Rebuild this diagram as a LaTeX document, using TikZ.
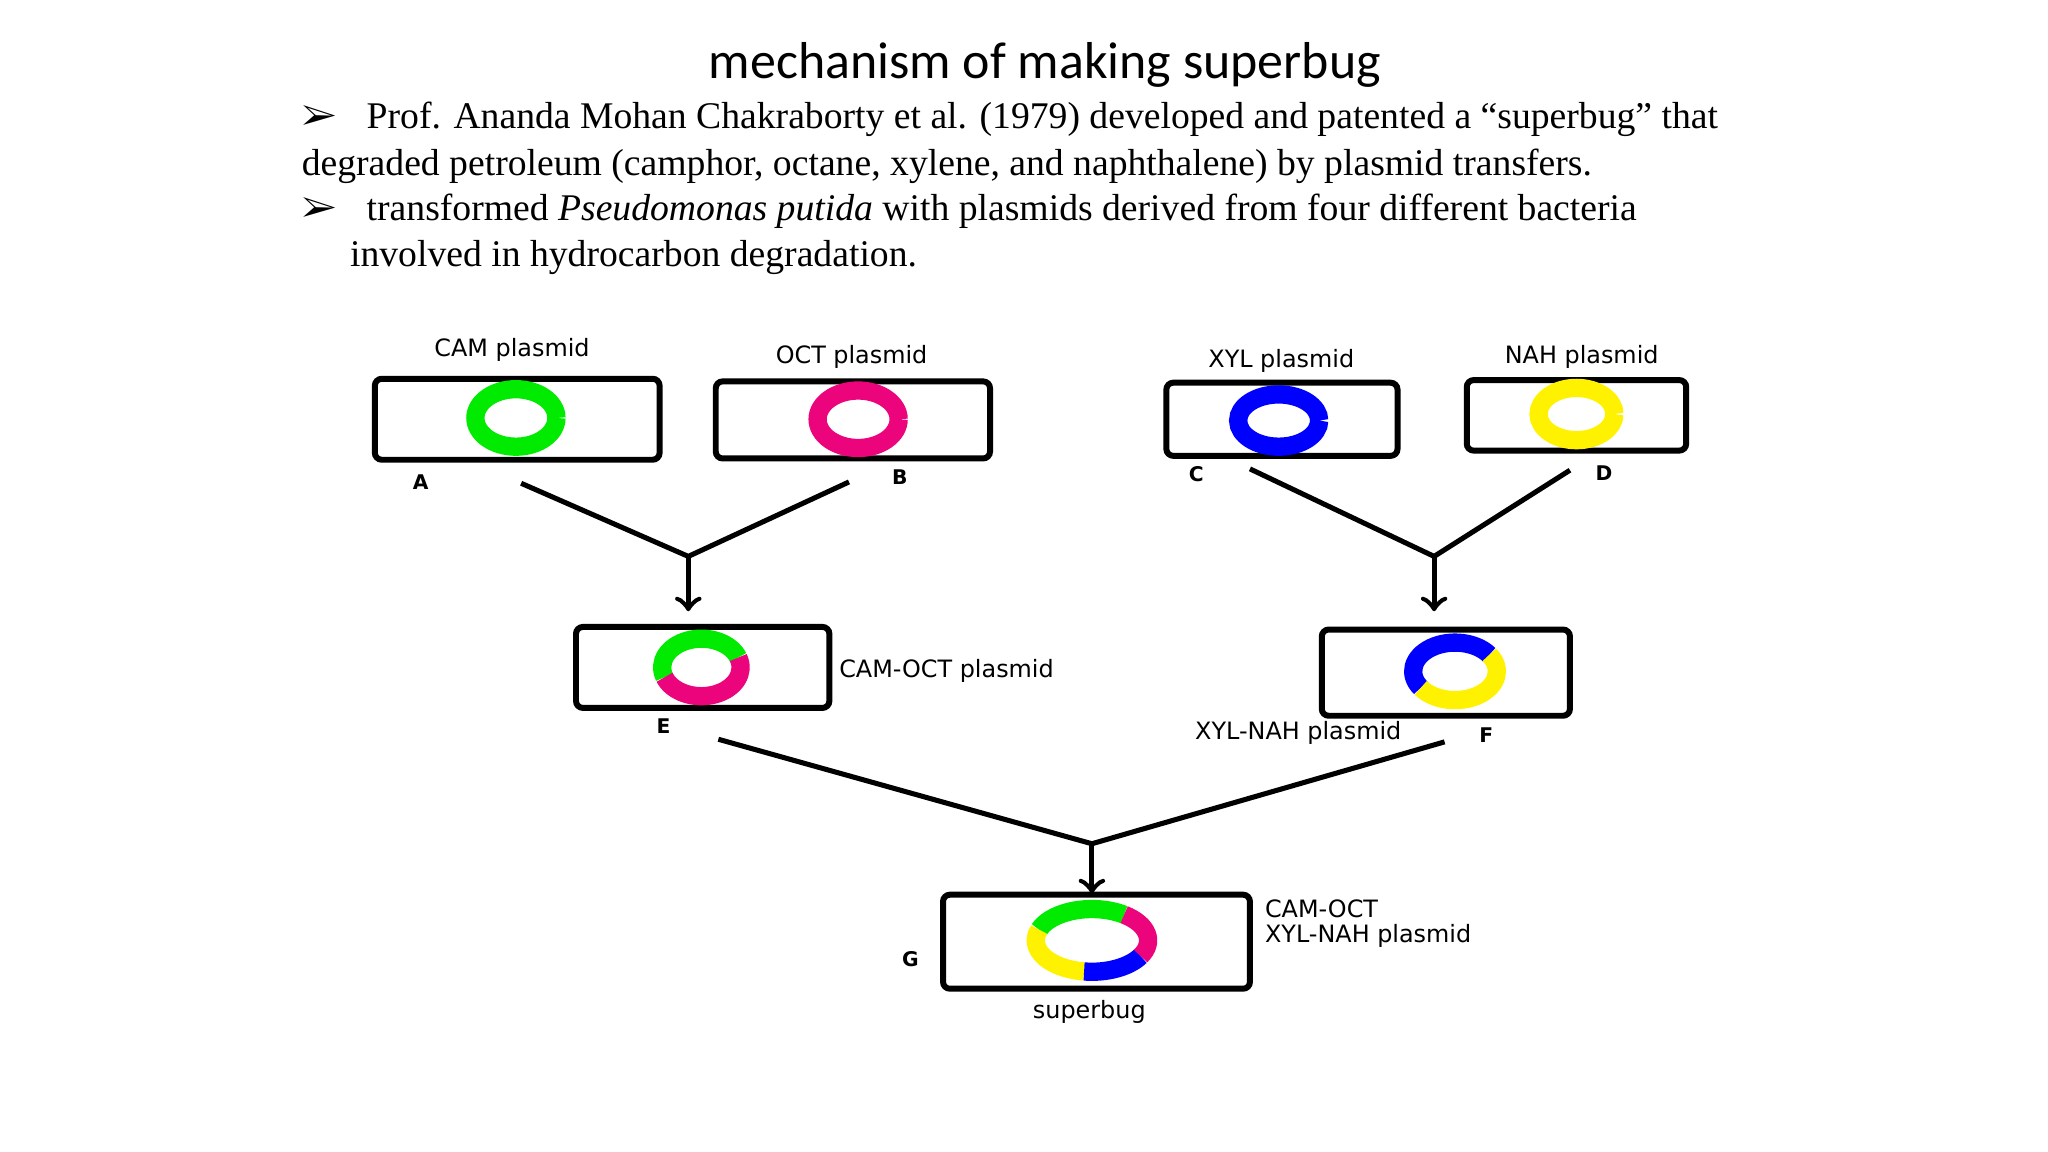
\documentclass[tikz,border=0pt]{standalone}
\usepackage{fontspec}
\setmainfont{Liberation Serif}
\newfontfamily\titlefont{Carlito}
\newfontfamily\labelfont{DejaVu Sans}
\usepackage{pifont}
\usetikzlibrary{arrows}

% one coloured piece of a plasmid ring: centre, colour, from, to, x radius, y radius
\newcommand{\plasmidarc}[6]{%
  \draw[-,line width=0.14cm,#2] (#1) ++(#3:#5 and #6)
    arc[start angle=#3,end angle=#4,x radius=#5,y radius=#6];}

\begin{document}
\begin{tikzpicture}[x=0.01cm,y=-0.01cm,->,>=to,semithick]
  \tikzstyle{cell}=[draw,-,line width=1.3pt,rounded corners=1.5pt]
  \tikzstyle{lbl}=[font=\labelfont\fontsize{5.2}{6}\selectfont,inner sep=1pt]
  \tikzstyle{tag}=[font=\labelfont\bfseries\fontsize{4.4}{5}\selectfont,inner sep=1pt]
  \tikzstyle{link}=[-,line width=1.1pt]
  \tikzstyle{bullet}=[anchor=west,font=\fontsize{8.2}{10}\selectfont,inner sep=0pt]

  \useasboundingbox (0,0) rectangle (1568,882);

  % heading and bullets
  \node[font=\titlefont\fontsize{11.3}{13}\selectfont] (title) at (800,50) {mechanism of making superbug};
  \node[bullet] (b1) at (230,91)
    {\ding{226}\hspace{0.8em}Prof. Ananda Mohan Chakraborty et al. (1979) developed and patented a “superbug” that};
  \node[bullet] (b1b) at (230,127)
    {degraded petroleum (camphor, octane, xylene, and naphthalene) by plasmid transfers.};
  \node[bullet] (b2) at (230,162)
    {\ding{226}\hspace{0.8em}transformed \textit{Pseudomonas putida} with plasmids derived from four different bacteria};
  \node[bullet] (b2b) at (267,197)
    {involved in hydrocarbon degradation.};

  % cells
  \draw[cell] (287,290) rectangle (505,352);
  \draw[cell] (548,292) rectangle (758,351);
  \draw[cell] (893,293) rectangle (1070,349);
  \draw[cell] (1123,291) rectangle (1291,345);
  \draw[cell] (441,480) rectangle (635,542);
  \draw[cell] (1012,482) rectangle (1202,548);
  \draw[cell] (722,685) rectangle (957,757);

  % ring centres
  \coordinate (ringA) at (395,320);
  \coordinate (ringB) at (657,321);
  \coordinate (ringC) at (979,322);
  \coordinate (ringD) at (1207,317);
  \coordinate (ringE) at (537,511);
  \coordinate (ringF) at (1114,514);
  \coordinate (ringG) at (836,720);

  \plasmidarc{ringA}{green!90!black!80!green}{0}{360}{0.31cm}{0.22cm}
  \plasmidarc{ringB}{magenta!85!red}{0}{360}{0.31cm}{0.22cm}
  \plasmidarc{ringC}{blue}{0}{360}{0.31cm}{0.2cm}
  \plasmidarc{ringD}{yellow}{0}{360}{0.29cm}{0.2cm}
  \plasmidarc{ringE}{green!90!black!80!green}{20}{200}{0.3cm}{0.22cm}
  \plasmidarc{ringE}{magenta!85!red}{200}{380}{0.3cm}{0.22cm}
  \plasmidarc{ringF}{blue}{35}{215}{0.32cm}{0.22cm}
  \plasmidarc{ringF}{yellow}{215}{395}{0.32cm}{0.22cm}
  \plasmidarc{ringG}{green!90!black!80!green}{55}{160}{0.43cm}{0.24cm}
  \plasmidarc{ringG}{yellow}{160}{262}{0.43cm}{0.24cm}
  \plasmidarc{ringG}{blue}{262}{330}{0.43cm}{0.24cm}
  \plasmidarc{ringG}{magenta!85!red}{330}{415}{0.43cm}{0.24cm}

  % labels
  \node[lbl] (camL) at (392,268) {CAM plasmid};
  \node[lbl] (octL) at (652,273) {OCT plasmid};
  \node[lbl] (xylL) at (981,276) {XYL plasmid};
  \node[lbl] (nahL) at (1211,273) {NAH plasmid};
  \node[lbl,anchor=west] (eL) at (638,514) {CAM-OCT plasmid};
  \node[lbl] (fL) at (994,561) {XYL-NAH plasmid};
  \node[lbl,anchor=north west,align=left,font=\labelfont\fontsize{5.2}{5.6}\selectfont] (gL) at (964,684) {CAM-OCT\\XYL-NAH plasmid};
  \node[lbl] (supL) at (834,775) {superbug};
  \node[tag] (tA) at (322,369) {A};
  \node[tag] (tB) at (689,365) {B};
  \node[tag] (tC) at (916,363) {C};
  \node[tag] (tD) at (1228,362) {D};
  \node[tag] (tE) at (508,556) {E};
  \node[tag] (tF) at (1138,563) {F};
  \node[tag] (tG) at (697,734) {G};

  % crossing lines
  \coordinate (fromA) at (399,370);
  \coordinate (fromB) at (650,369);
  \coordinate (joinAB) at (527,426);
  \coordinate (toE) at (527,468);
  \coordinate (fromC) at (957,359);
  \coordinate (fromD) at (1202,360);
  \coordinate (joinCD) at (1098,426);
  \coordinate (toF) at (1098,468);
  \coordinate (fromE) at (550,566);
  \coordinate (fromF) at (1106,568);
  \coordinate (joinEF) at (836,646);
  \coordinate (toG) at (836,684);

  \draw[link] (fromA) -- (joinAB) -- (fromB);
  \draw[link,->] (joinAB) -- (toE);
  \draw[link] (fromC) -- (joinCD) -- (fromD);
  \draw[link,->] (joinCD) -- (toF);
  \draw[link] (fromE) -- (joinEF) -- (fromF);
  \draw[link,->] (joinEF) -- (toG);
\end{tikzpicture}
\end{document}
